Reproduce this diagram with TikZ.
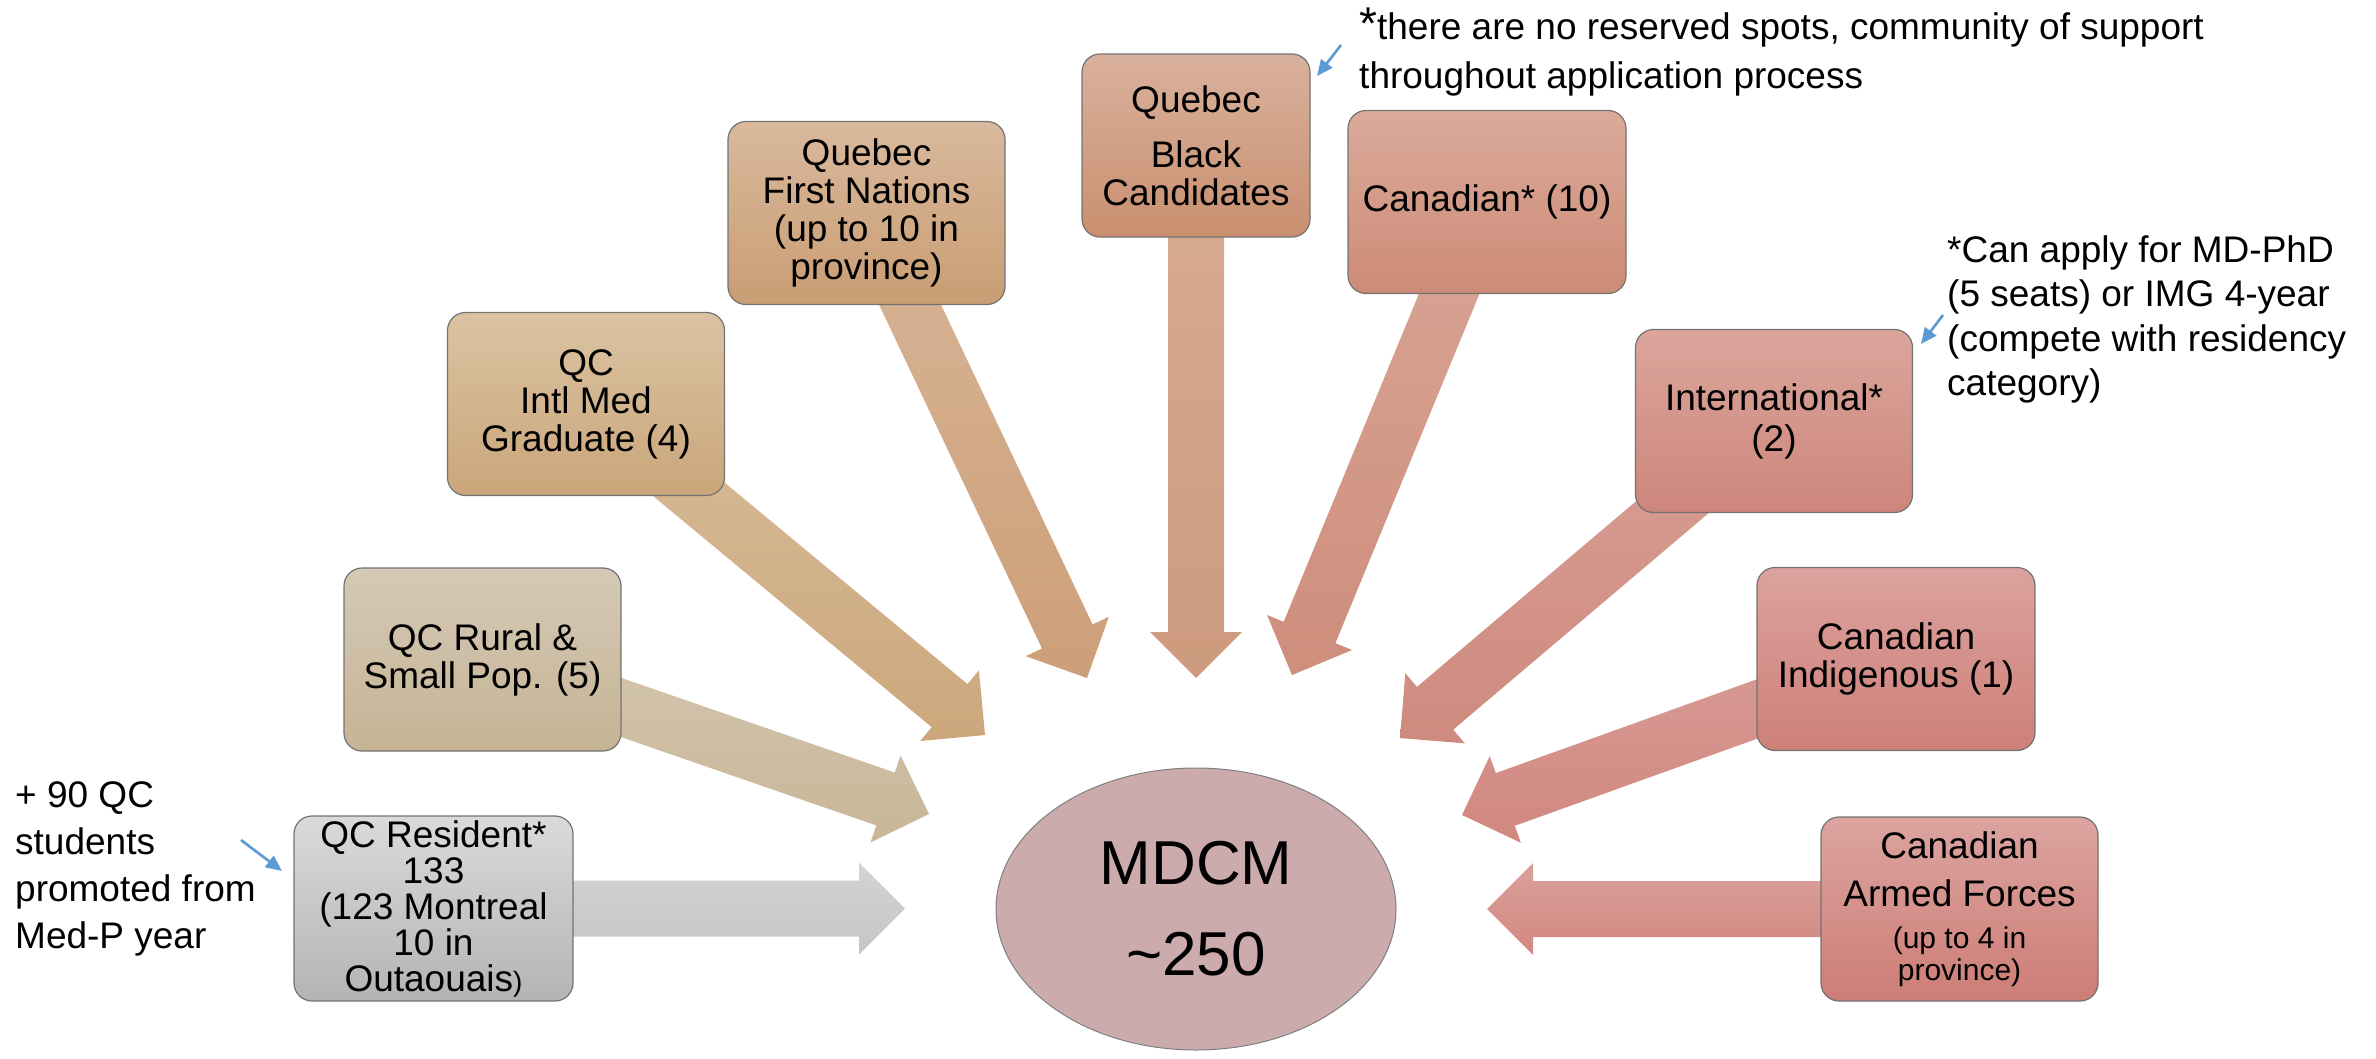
\documentclass[tikz,border=0pt]{standalone}
\usepackage{fontspec}
\setmainfont{Liberation Sans}
\usetikzlibrary{calc,arrows.meta,shapes.geometric,backgrounds}

\definecolor{resT}{HTML}{DADADA}\definecolor{resB}{HTML}{B4B4B4}
\definecolor{rurT}{HTML}{D5C9B6}\definecolor{rurB}{HTML}{C5B394}
\definecolor{imgT}{HTML}{DAC3A3}\definecolor{imgB}{HTML}{CBA67A}
\definecolor{fnT}{HTML}{D9B99D}\definecolor{fnB}{HTML}{C99D73}
\definecolor{blkT}{HTML}{D9B19D}\definecolor{blkB}{HTML}{C98F6F}
\definecolor{canT}{HTML}{DBAA9A}\definecolor{canB}{HTML}{CD8B77}
\definecolor{intT}{HTML}{DBA59C}\definecolor{intB}{HTML}{CD867B}
\definecolor{indT}{HTML}{DCA29E}\definecolor{indB}{HTML}{CD8078}
\definecolor{afT}{HTML}{DCA4A0}\definecolor{afB}{HTML}{CD7D76}
\definecolor{aresT}{HTML}{D3D3D3}\definecolor{aresB}{HTML}{C6C6C6}
\definecolor{arurT}{HTML}{D3C6B0}\definecolor{arurB}{HTML}{C9B697}
\definecolor{aimgT}{HTML}{D7BD9A}\definecolor{aimgB}{HTML}{CCA77C}
\definecolor{afnT}{HTML}{D8B598}\definecolor{afnB}{HTML}{CC9F78}
\definecolor{ablkT}{HTML}{D7AC94}\definecolor{ablkB}{HTML}{CD9A7E}
\definecolor{acanT}{HTML}{D8A696}\definecolor{acanB}{HTML}{CE8E7C}
\definecolor{aintT}{HTML}{D8A096}\definecolor{aintB}{HTML}{CF8A7E}
\definecolor{aindT}{HTML}{D99D98}\definecolor{aindB}{HTML}{D0887E}
\definecolor{aafT}{HTML}{DAA09B}\definecolor{aafB}{HTML}{D28880}
\definecolor{ellfill}{HTML}{CBABAB}
\definecolor{noteblue}{HTML}{5B9BD5}

% #1 source node, #2 tip coordinate, #3 top colour, #4 bottom colour
\newcommand\fatarrow[4]{%
  \path let \p1=($(#2)-(#1.center)$), \n1={atan2(\y1,\x1)} in \pgfextra{\xdef\faang{\n1}};
  \shade[top color=#3, bottom color=#4]
    (#2) -- ($(#2)+(\faang+135:65.05pt)$)
    -- ($(#2)+(\faang+180:46pt)+(\faang+90:28pt)$)
    -- ($(#1.center)+(\faang+90:28pt)$)
    -- ($(#1.center)+(\faang-90:28pt)$)
    -- ($(#2)+(\faang+180:46pt)+(\faang-90:28pt)$)
    -- ($(#2)+(\faang-135:65.05pt)$) -- cycle;
}

\begin{document}
\begin{tikzpicture}[x=1pt,y=-1pt,
  box/.style={rectangle, rounded corners=18pt, draw=black!55, line width=1.2pt,
    minimum width=277pt, minimum height=183pt, inner sep=0pt, align=center,
    font=\fontsize{37}{38}\selectfont},
  note/.style={anchor=north west, inner sep=0pt, align=left,
    font=\fontsize{37}{47}\selectfont},
  pointer/.style={draw=noteblue, line width=2.6pt, -{Triangle[length=16pt,width=14pt]}}]

% boxes
\node[box, top color=resT, bottom color=resB, minimum width=279pt, minimum height=185pt,
      font=\fontsize{37}{36}\selectfont] (res) at (433.5,908.5)
  {QC Resident*\\133\\(123 Montreal\\10 in\\Outaouais{\fontsize{28}{28}\selectfont)}};
\node[box, top color=rurT, bottom color=rurB] (rur) at (482.5,659.5) {QC Rural \&\\Small Pop. (5)};
\node[box, top color=imgT, bottom color=imgB] (img) at (586,404) {QC\\Intl Med\\Graduate (4)};
\node[box, top color=fnT, bottom color=fnB] (fn) at (866.5,213) {Quebec\\First Nations\\(up to 10 in\\province)};
\node[box, top color=blkT, bottom color=blkB, minimum width=228pt] (blk) at (1196,145.5)
  {Quebec\\[17pt]Black\\Candidates};
\node[box, top color=canT, bottom color=canB, minimum width=278pt] (can) at (1487,202) {Canadian* (10)};
\node[box, top color=intT, bottom color=intB] (intl) at (1774,421) {International*\\[3pt](2)};
\node[box, top color=indT, bottom color=indB, minimum width=278pt] (ind) at (1896,659) {Canadian\\Indigenous (1)};
\node[box, top color=afT, bottom color=afB, minimum height=184pt] (af) at (1959.5,909)
  {Canadian\\[10pt]Armed Forces\\[4pt]{\fontsize{30}{30}\selectfont(up to 4 in}\\[-6pt]{\fontsize{30}{30}\selectfont province)}};

% centre
\node[ellipse, draw=black!50, line width=1pt, fill=ellfill, minimum width=400pt,
      minimum height=282pt, inner sep=0pt, align=center,
      font=\fontsize{62}{91}\selectfont] (mdcm) at (1196,909) {MDCM\\\textasciitilde250};

% arrow tips
\coordinate (tres) at (905,908.5);
\coordinate (trur) at (929,814);
\coordinate (timg) at (985,735);
\coordinate (tfn)  at (1087,678);
\coordinate (tblk) at (1196,678);
\coordinate (tcan) at (1292,675);
\coordinate (tint) at (1400,738);
\coordinate (tind) at (1462,815);
\coordinate (taf)  at (1487,909);

\begin{pgfonlayer}{background}
  \fill[white] (0,0) rectangle (2376,1058);
  \fatarrow{res}{tres}{aresT}{aresB}
  \fatarrow{rur}{trur}{arurT}{arurB}
  \fatarrow{img}{timg}{aimgT}{aimgB}
  \fatarrow{fn}{tfn}{afnT}{afnB}
  \fatarrow{blk}{tblk}{ablkT}{ablkB}
  \fatarrow{can}{tcan}{acanT}{acanB}
  \fatarrow{intl}{tint}{aintT}{aintB}
  \fatarrow{ind}{tind}{aindT}{aindB}
  \fatarrow{af}{taf}{aafT}{aafB}
\end{pgfonlayer}

% notes
\node[note] (n0) at (15,781) {+ 90 QC\\students\\promoted from\\Med-P year};
\node[note, font=\fontsize{37}{49}\selectfont] (n1) at (1359,8)
  {{\fontsize{46}{46}\selectfont *}there are no reserved spots, community of support\\throughout application process};
\node[note, font=\fontsize{37}{44.5}\selectfont] (n2) at (1947,235)
  {*Can apply for MD-PhD\\(5 seats) or IMG 4-year\\(compete with residency\\category)};

\coordinate (p0s) at (241,840);  \coordinate (p0e) at (282,871);
\coordinate (p1s) at (1341,45);  \coordinate (p1e) at (1317,76);
\coordinate (p2s) at (1943,315); \coordinate (p2e) at (1921,344);
\draw[pointer] (p0s) -- (p0e);
\draw[pointer] (p1s) -- (p1e);
\draw[pointer] (p2s) -- (p2e);

\useasboundingbox (0,0) rectangle (2376,1058);
\end{tikzpicture}
\end{document}
